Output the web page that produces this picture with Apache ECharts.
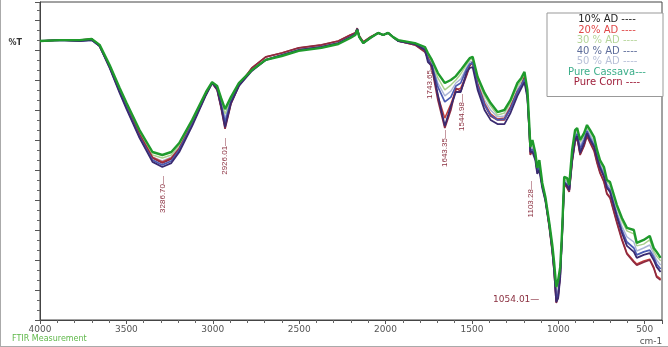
<!DOCTYPE html>
<html><head><meta charset="utf-8">
<script src="https://cdn.jsdelivr.net/npm/echarts@6/dist/echarts.min.js"></script>
<style>html,body{margin:0;padding:0;background:#fff}#c{width:668px;height:347px}</style>
</head><body><div id="c"></div>
<script>
// Wavenumbers (cm-1) shared by all spectra
const wavenumbers = [4000,3885,3770,3701,3655,3597,3539,3499,3424,3349,
 3292,3240,3194,3119,3039,3004,2975,2952,2929,2895,
 2849,2774,2693,2601,2503,2371,2273,2204,2175,2164,
 2152,2129,2089,2043,2014,1985,1956,1927,1830,1772,
 1755,1732,1697,1657,1622,1593,1565,1530,1513,1496,
 1467,1427,1392,1352,1312,1277,1237,1214,1196,1179,
 1168,1162,1150,1133,1122,1110,1093,1075,1052,1035,
 1024,1012,1001,989,978,966,949,937,920,903,
 891,874,851,834,816,793,776,759,736,719,
 701,661,632,603,563,546,506,471,448,431,
 408];

// %T values
const pureCassava = [93.0,93.3,93.3,93.7,91.7,85.0,77.3,72.3,63.3,56.0,
 55.0,56.0,59.0,66.7,76.0,79.3,78.0,74.0,70.3,74.3,
 79.0,83.3,86.7,88.0,89.7,90.7,92.0,94.0,95.0,96.7,
 94.3,92.3,94.0,95.7,95.0,95.7,94.3,93.3,92.3,91.0,
 89.0,86.7,82.3,79.0,80.0,81.3,83.3,86.0,87.3,87.7,
 81.0,75.7,72.3,69.3,70.0,73.3,79.0,80.7,82.7,76.7,
 65.0,57.7,60.0,55.7,50.7,53.3,45.7,41.0,32.3,25.0,
 19.0,11.0,13.3,17.7,30.0,47.7,47.3,45.0,56.7,63.3,
 64.0,60.0,62.3,65.0,63.3,61.0,56.7,53.3,51.0,46.7,
 46.0,38.3,34.0,30.7,30.0,25.7,26.7,28.0,24.0,22.7,
 20.7];

const ad10 = [93.0,93.3,93.0,93.3,91.3,84.0,75.7,70.3,60.7,52.7,
 51.0,52.3,56.0,64.7,75.0,79.0,77.0,71.3,64.3,72.3,
 78.0,83.0,86.7,88.3,90.0,91.0,92.3,94.3,95.3,97.0,
 94.3,92.3,94.0,95.7,95.0,95.7,94.3,93.0,92.0,90.0,
 86.0,84.7,75.0,64.7,71.3,76.0,76.0,82.7,84.0,84.3,
 76.7,70.0,66.7,65.3,65.3,69.0,74.7,77.3,79.3,74.0,
 63.3,56.0,56.0,53.3,48.7,50.0,44.0,39.7,31.3,23.3,
 16.3,6.0,7.3,14.3,28.0,45.7,44.7,43.3,53.3,60.0,
 61.3,55.7,59.0,62.3,60.0,57.7,54.0,50.7,47.7,44.0,
 42.7,34.3,29.0,24.7,22.7,20.7,21.7,22.3,20.0,17.7,
 16.0];

const pureCorn = [93.0,93.3,93.3,93.7,91.3,84.3,76.3,71.0,61.7,54.0,
 52.3,53.7,57.0,65.3,75.3,79.0,76.7,70.7,63.7,72.0,
 78.0,84.0,87.7,89.0,90.7,91.7,93.0,95.0,95.7,97.3,
 94.7,92.7,94.3,95.7,95.0,95.7,94.3,93.0,91.7,89.3,
 87.3,84.0,73.3,64.0,70.0,77.3,76.3,81.7,84.7,86.0,
 78.3,71.7,68.0,66.7,66.7,70.7,76.0,78.0,80.7,74.7,
 62.7,55.0,56.7,54.0,49.3,50.7,44.7,40.0,30.7,22.7,
 16.0,5.7,7.7,15.0,28.3,45.3,44.0,42.7,52.7,59.3,
 60.7,55.0,58.0,61.3,59.0,56.3,52.3,49.0,46.0,42.0,
 40.7,32.3,26.7,22.0,19.3,18.3,19.3,20.0,17.3,14.3,
 13.3];

const ad20 = [93.0,93.3,93.0,93.7,91.3,84.7,76.7,71.3,62.0,54.3,
 52.7,54.0,57.3,65.7,75.3,79.0,77.0,71.0,64.7,72.3,
 78.3,84.0,87.7,89.0,90.7,91.7,93.0,95.0,95.7,97.0,
 94.7,92.7,94.3,95.7,95.0,95.7,94.3,93.0,91.7,89.7,
 87.7,84.3,74.7,67.3,72.0,76.7,77.3,82.0,85.0,85.7,
 78.7,72.3,68.7,67.0,67.3,71.0,76.3,78.3,81.0,75.0,
 63.0,55.3,57.0,54.3,49.7,51.0,45.0,40.3,31.0,23.0,
 16.3,6.3,8.0,15.3,28.7,45.7,44.3,43.0,53.0,59.7,
 61.0,55.3,58.3,61.7,59.3,56.7,52.7,49.3,46.3,42.3,
 41.0,32.7,27.0,22.3,19.7,18.7,19.7,20.3,17.7,14.7,
 13.7];

const ad40 = [93.0,93.3,93.0,93.3,91.3,84.3,76.0,70.7,61.0,53.3,
 51.7,53.0,56.7,65.3,75.3,79.0,77.3,72.0,66.0,73.0,
 78.3,83.3,86.7,88.3,90.0,91.0,92.3,94.3,95.3,97.0,
 94.3,92.3,94.0,95.7,95.0,95.7,94.3,93.0,92.0,90.3,
 87.0,85.0,77.7,72.7,74.3,78.0,79.0,83.7,85.3,85.7,
 78.0,71.7,68.3,66.7,67.0,70.3,76.0,78.3,80.3,74.7,
 63.7,56.3,57.0,54.3,49.3,51.0,44.7,40.3,31.7,23.7,
 17.0,7.3,8.7,15.3,28.7,46.0,45.3,43.3,54.0,60.7,
 62.0,57.0,60.0,63.0,60.7,58.3,54.7,51.3,48.3,44.7,
 43.3,35.0,30.0,26.0,24.0,21.7,22.7,23.3,21.0,18.7,
 17.0];

const ad30 = [93.0,93.3,93.3,93.7,91.7,84.7,76.7,71.7,62.7,55.0,
 54.0,55.0,58.3,66.3,75.7,79.3,78.0,73.3,68.7,74.0,
 79.0,83.3,86.7,88.3,90.0,91.0,92.3,94.3,95.3,97.0,
 94.3,92.3,94.0,95.7,95.0,95.7,94.3,93.3,92.3,90.7,
 88.3,86.0,80.7,76.7,78.3,80.0,82.0,85.3,86.7,87.0,
 80.3,74.7,71.3,68.3,69.0,72.3,78.0,79.7,81.7,75.7,
 64.3,57.3,59.0,55.3,50.3,52.7,45.3,40.7,32.0,24.7,
 18.3,10.0,12.3,17.0,29.7,47.3,46.7,44.3,56.0,62.7,
 63.3,59.3,61.7,64.3,62.7,60.3,56.0,52.7,50.3,46.0,
 45.3,37.3,33.0,29.7,28.7,24.7,25.3,26.7,23.0,21.3,
 19.7];

const ad50 = [93.0,93.3,93.0,93.3,91.3,84.7,76.3,71.0,62.0,54.3,
 53.0,54.3,57.7,66.0,75.7,79.0,77.7,72.7,67.3,73.7,
 78.7,83.3,86.7,88.3,90.0,91.0,92.3,94.3,95.3,97.0,
 94.3,92.3,94.0,95.7,95.0,95.7,94.3,93.0,92.0,90.7,
 87.7,85.7,79.0,74.7,76.3,79.0,80.3,84.3,86.0,86.3,
 79.3,73.3,70.0,67.7,68.0,71.3,77.0,79.0,81.0,75.3,
 64.0,57.0,58.0,55.0,50.0,52.0,45.0,40.7,31.7,24.0,
 17.7,8.7,10.3,16.3,29.0,46.7,46.0,43.7,55.0,61.7,
 62.7,58.0,61.0,63.7,61.7,59.3,55.3,52.0,49.3,45.3,
 44.3,36.0,31.3,27.7,26.0,23.0,24.0,25.0,22.0,20.0,
 18.3];

// Legend names
const seriesNames = ['10% AD','20% AD','30 % AD','40 % AD','50 % AD','Pure Cassava','Pure Corn'];

// Peak annotations (label, wavenumber anchor, %T anchor)
const peakLabels = ['3286.70—','2926.01—','1743.65—','1643.35—','1544.98—','1103.28—'];
const peakWn = [3292, 2929, 1743, 1657, 1559, 1162];
const peakT = [48.0, 60.7, 86.0, 63.3, 75.3, 46.3];
const flatLabel = '1054.01—';
const flatWn = 1110;
const flatT = 6.7;

const FONT = 'DejaVu Sans';
const lineColors = {'10% AD':'#3a2a70','20% AD':'#c8403a','30 % AD':'#a9cf8c','40 % AD':'#4a5ab2','50 % AD':'#aab4d6','Pure Cassava':'#1f9a2c','Pure Corn':'#8e2a40'};
const textColors = {'10% AD':'#222222','20% AD':'#e04848','30 % AD':'#b5d59a','40 % AD':'#5d6c9a','50 % AD':'#b8c0d8','Pure Cassava':'#3cae8a','Pure Corn':'#a0203c'};

function mk(name, arr, width) {
  return {
    name, type: 'line', symbol: 'none', showSymbol: false, animation: false,
    data: wavenumbers.map((w, i) => [w, arr[i]]),
    lineStyle: { color: lineColors[name], width },
    itemStyle: { color: lineColors[name] },
    emphasis: { disabled: true }
  };
}

const chart = echarts.init(document.getElementById('c'));
const option = {
  animation: false,
  backgroundColor: '#fff',
  grid: { left: 40, right: 6, top: 2, bottom: 27, show: true, borderColor: '#444', borderWidth: 1 },
  legend: {
    orient: 'vertical', right: 5, top: 13,
    icon: 'none', itemWidth: 0, itemHeight: 11, itemGap: 0,
    padding: [1, 6, 9, 5],
    backgroundColor: '#fff', borderColor: '#999', borderWidth: 1,
    selectedMode: false,
    formatter: n => '{t|' + n + (n === 'Pure Cassava' ? '---' : ' ----') + '}',
    textStyle: { fontFamily: FONT, fontSize: 10, rich: { t: { width: 100, align: 'center', lineHeight: 11, fontFamily: FONT, fontSize: 10 } } },
    data: seriesNames.map(n => ({ name: n, textStyle: { color: textColors[n] } }))
  },
  xAxis: {
    type: 'value', min: 400, max: 4000, inverse: true, splitNumber: 7,
    name: 'cm-1', nameLocation: 'start', nameGap: -11,
    nameTextStyle: { color: '#555', fontFamily: FONT, fontSize: 9, align: 'center', verticalAlign: 'top', padding: [17, 0, 0, 0] },
    axisLine: { lineStyle: { color: '#444' } },
    axisTick: { show: true, length: 4, lineStyle: { color: '#555' } },
    minorTick: { show: true, splitNumber: 5, length: 3, lineStyle: { color: '#666' } },
    axisLabel: { color: '#555', fontFamily: FONT, fontSize: 9, margin: 5, showMinLabel: false, formatter: v => String(v) },
    splitLine: { show: false }
  },
  yAxis: [{
    type: 'value', min: 0, max: 106, interval: 10,
    name: '%T', nameLocation: 'end', nameGap: -45,
    nameTextStyle: { color: '#333', fontFamily: FONT, fontSize: 8, fontWeight: 'bold', align: 'right', padding: [0, 18, 0, 0] },
    axisLine: { show: true, lineStyle: { color: '#444' } },
    axisTick: { show: true, length: 5, lineStyle: { color: '#555' } },
    minorTick: { show: true, splitNumber: 3, length: 3, lineStyle: { color: '#666' } },
    axisLabel: { show: false },
    splitLine: { show: false }
  }],
  series: [
    mk('50 % AD', ad50, 1.4),
    mk('30 % AD', ad30, 1.4),
    mk('20% AD', ad20, 1.5),
    mk('Pure Corn', pureCorn, 1.7),
    mk('40 % AD', ad40, 1.7),
    mk('10% AD', ad10, 1.8),
    mk('Pure Cassava', pureCassava, 2.4)
  ]
};
chart.setOption(option);

const graphics = [];
peakLabels.forEach((lab, i) => {
  const p = chart.convertToPixel({ gridIndex: 0 }, [peakWn[i], peakT[i]]);
  graphics.push({
    type: 'text', x: p[0], y: p[1], rotation: Math.PI / 2, z: 100,
    style: { text: lab, fill: '#8b3040', font: '8px "Liberation Sans"', align: 'right', verticalAlign: 'middle' }
  });
});
const fp = chart.convertToPixel({ gridIndex: 0 }, [flatWn, flatT]);
graphics.push({
  type: 'text', x: fp[0], y: fp[1], z: 100,
  style: { text: flatLabel, fill: '#8b3040', font: '9px "DejaVu Sans"', align: 'right', verticalAlign: 'middle' }
});
graphics.push({
  type: 'text', left: 12, top: 335, z: 100,
  style: { text: 'FTIR Measurement', fill: '#5fb84a', font: '8px "DejaVu Sans"' }
});
graphics.push({ type: 'line', shape: { x1: 0.5, y1: 0, x2: 0.5, y2: 347 }, style: { stroke: '#aaa', lineWidth: 1 } });
graphics.push({ type: 'line', shape: { x1: 0, y1: 346.5, x2: 668, y2: 346.5 }, style: { stroke: '#aaa', lineWidth: 1 } });
chart.setOption({ graphic: graphics });
</script>
</body></html>
